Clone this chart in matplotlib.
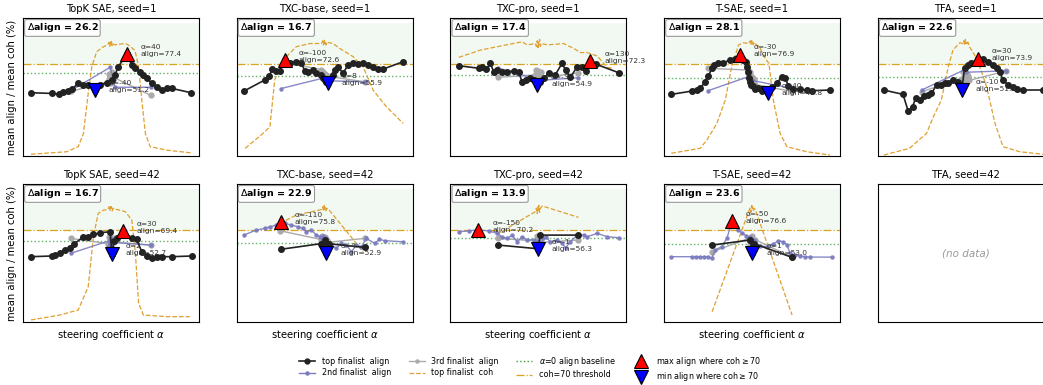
import matplotlib
matplotlib.use("Agg")
import matplotlib.pyplot as plt
from matplotlib.lines import Line2D

# ---- data (alpha, value in %) ----
# TopK SAE, seed=1
topk1_top_a = [-200, -148, -129, -119, -107, -98, -82, -69, -57, -40, -27, -11, 2, 10, 18, 40, 52, 60, 72, 81, 89, 102, 114, 127, 139, 152, 200]
topk1_top_y = [49, 48.5, 47.8, 49.7, 50.5, 51.5, 55.9, 54.6, 54.6, 51.2, 54.6, 56.3, 58.3, 62, 68, 77.4, 69.3, 66.9, 64.4, 62, 59.5, 56.3, 53, 51, 52.2, 52.2, 49]
topk1_coh_a = [-200, -111, -82, -69, -57, -48, -36, -19, -8, -5, -3, -1, 0, 1, 3, 5, 8, 20, 36, 43, 60, 69, 77, 86, 98, 139, 200]
topk1_coh_y = [4, 5.8, 9.5, 19, 48.6, 68, 79, 82.7, 84, 86, 83, 87, 84, 86.5, 83.5, 85, 84, 84.5, 85, 84, 80, 68, 43.7, 19, 9.5, 7, 5]
topk1_sec_a = [-100, -2, 10, 100]
topk1_sec_y = [50.7, 67.6, 53, 53]
topk1_thr_a = [-100, -8, -6, -4, -2, 0, 2, 4, 6, 8, 100]
topk1_thr_y = [50, 57, 63, 59, 61, 56, 64, 58, 62, 60, 47]

# TXC-base, seed=1
txcb1_top_a = [-202, -150, -139, -131, -121, -112, -100, -87, -71, -58, -50, -42, -29, -21, -10, -5, 0, 4, 8, 12, 20, 25, 33, 46, 58, 71, 83, 96, 108, 121, 133, 146, 196]
txcb1_top_y = [50.2, 58.3, 61.2, 66.1, 65.1, 65.1, 72.6, 71, 71.5, 70.5, 65.1, 64.4, 65.6, 63.2, 62, 60, 58, 57, 55.9, 58, 62, 65.6, 68, 63.2, 69.3, 70.5, 70, 70.5, 69.3, 68, 66.7, 66.3, 71.7]
txcb1_coh_a = [-199, -154, -137, -125, -104, -71, -37, -8, -5, -3, -1, 0, 1, 3, 5, 21, 37, 71, 96, 121, 154, 196]
txcb1_coh_y = [8.3, 19.3, 24, 58.3, 73, 82.7, 85, 85, 87, 84, 88, 85, 86.5, 84, 86, 85, 81.5, 75.4, 68, 51, 38.8, 26.6]
txcb1_sec_a = [-110, 0, 5, 100]
txcb1_sec_y = [52, 60, 57.8, 57]
txcb1_thr_a = [-100, -8, -6, -4, -2, 0, 2, 4, 6, 8, 100]
txcb1_thr_y = [71, 66, 62, 64, 60, 63, 59, 62, 58, 61, 57]

# TXC-pro, seed=1
txcp1_top_a = [-199, -149, -141, -130, -120, -112, -103, -91, -78, -62, -49, -41, -32, -20, -10, -3, 5, 13, 26, 42, 59, 68, 80, 97, 109, 118, 130, 143, 201]
txcp1_top_y = [68.8, 66.9, 68, 66.3, 70.5, 64.4, 65.6, 64.4, 64.4, 64.9, 63.9, 57.1, 58.3, 60, 58, 54.9, 57, 59.5, 63.2, 62, 70.5, 65.6, 60.3, 68, 68, 64.9, 72.3, 70, 63.6]
txcp1_coh_a = [-199, -145, -103, -70, -41, -28, -8, -5, -3, -1, 0, 1, 3, 5, 8, 22, 63, 88, 105, 122, 147, 172, 188]
txcp1_coh_y = [74.9, 80.2, 82.7, 84.6, 86.3, 84, 85, 83, 87, 82, 86, 84, 88, 83, 85, 84, 85, 81.5, 78.4, 78.4, 75.9, 67.5, 66.9]
txcp1_sec_a = [-100, -50, 0, 100]
txcp1_sec_y = [67, 63, 58, 60]
txcp1_thr_a = [-100, -8, -6, -4, -2, 0, 2, 4, 6, 8, 100]
txcp1_thr_y = [60.3, 62, 66, 60, 65, 59, 63, 61, 64, 60, 63.5]

# T-SAE, seed=1
tsae1_top_a = [-202, -151, -138, -130, -117, -109, -101, -95, -84, -72, -55, -42, -30, -22, -15, -12, -10, -8, -5, -2, 3, 8, 16, 26, 40, 49, 62, 74, 83, 91, 103, 120, 137, 149, 195]
tsae1_top_y = [47.8, 50.2, 51, 52.2, 57.1, 61.2, 66.9, 69.3, 70.5, 71, 72.9, 73.4, 76.9, 72.9, 71.7, 68, 64, 60, 57, 55, 53.9, 51.5, 52.2, 50.5, 48.8, 53, 55.9, 60.7, 59.5, 53.9, 51.5, 51.5, 51, 50.5, 51]
tsae1_coh_a = [-202, -130, -113, -88, -67, -51, -34, -22, -8, -5, -3, -1, 0, 1, 3, 5, 8, 20, 33, 42, 53, 70, 87, 137, 195]
tsae1_coh_y = [4.7, 8.3, 14.4, 26.6, 43.7, 68, 83.9, 85.6, 85, 87, 84, 88, 85, 86.5, 84, 86, 85, 81.5, 74, 70.5, 43.7, 19.3, 9.5, 5.8, 3.4]
tsae1_sec_a = [-110, -10, 0, 100]
tsae1_sec_y = [50.5, 60.7, 58, 52.2]
tsae1_thr_a = [-110, -10, -8, -6, -4, -2, 0, 2, 4, 6, 8, 100]
tsae1_thr_y = [66.9, 65.6, 62, 64, 59, 61, 57, 60, 56, 58, 55, 50]

# TFA, seed=1
tfa1_top_a = [-205, -157, -144, -133, -125, -115, -105, -94, -86, -73, -61, -52, -44, -32, -20, -10, -3, 6, 14, 30, 43, 56, 68, 77, 85, 93, 106, 118, 127, 143, 193]
tfa1_top_y = [51, 47.8, 35.6, 38.8, 45.4, 43.7, 46.6, 47.3, 48.6, 54.6, 54.6, 55.9, 56.3, 58.3, 57, 51.3, 66.9, 69.3, 70.5, 73.9, 73.4, 71.7, 69.3, 66.9, 64.4, 58.3, 54.6, 53, 51.5, 51, 51]
tfa1_coh_a = [-205, -141, -98, -81, -61, -44, -32, -15, -8, -5, -3, -1, 0, 1, 3, 5, 9, 22, 35, 52, 73, 93, 135, 193]
tfa1_coh_y = [3.4, 8.3, 19.3, 31.5, 43.7, 68, 80.2, 85.6, 85, 87, 84, 88, 85, 86, 84, 86, 82.7, 76.6, 68, 53.4, 26.6, 9.5, 5.8, 4]
tfa1_sec_a = [-110, -5, 0, 100]
tfa1_sec_y = [51, 65.6, 64, 65]
tfa1_thr_a = [-110, -8, -6, -4, -2, 0, 2, 4, 6, 8, 100]
tfa1_thr_y = [49.7, 60, 64, 58, 62, 57, 63, 59, 61, 58, 64.9]

# TopK SAE, seed=42
topk42_top_a = [-200, -148, -140, -128, -115, -103, -92, -69, -57, -44, -27, -2, 2, 8, 15, 30, 52, 64, 77, 89, 102, 114, 127, 152, 202]
topk42_top_y = [50.5, 51, 51.7, 53.4, 55.4, 56.6, 59.8, 65.1, 65.1, 66.8, 68, 68.8, 52.7, 62, 64, 69.4, 63.9, 63.2, 54.1, 51, 49.7, 50.2, 50.5, 50.5, 51]
topk42_coh_a = [-200, -128, -82, -57, -44, -32, -19, -8, -5, -3, -1, 0, 1, 3, 5, 8, 15, 36, 52, 61, 69, 81, 139, 197]
topk42_coh_y = [4.2, 7.8, 11.5, 28.5, 65.1, 82.2, 84.6, 85, 87, 84, 88, 86, 87, 84, 86, 85, 85.1, 83.4, 77.3, 53, 16.4, 7.8, 6.6, 6.6]
topk42_sec_a = [-100, -6, -4, -2, 0, 2, 4, 6, 100]
topk42_sec_y = [53, 62, 58, 64, 60, 63, 57, 61, 59]
topk42_thr_a = [-100, -8, -4, 0, 4, 8, 100]
topk42_thr_y = [63.9, 60, 65, 59, 64, 61, 59]

# TXC-base, seed=42
txcb42_top_a = [-110, -10, 0, 4, 10, 100]
txcb42_top_y = [55.9, 60, 62.7, 52.9, 60, 57.3]
txcb42_coh_a = [-112, -71, -8, -5, -3, -1, 0, 1, 3, 5, 8, 10, 96]
txcb42_coh_y = [74.9, 81, 85, 87, 84, 88, 85, 86.5, 84, 86, 85, 85.1, 54.1]
txcb42_sec_a = [-202, -171, -150, -137, -121, -110, -100, -83, -67, -54, -46, -33, -21, -12, -6, -3, 0, 3, 6, 17, 29, 42, 54, 67, 79, 92, 104, 125, 137, 150, 196]
txcb42_sec_y = [66.3, 70, 71.2, 72.4, 73.6, 75.8, 74.9, 73.6, 72.4, 71.2, 68.8, 70, 66.3, 65.1, 62, 66, 60, 64, 61, 59, 56.6, 60.3, 59, 54.1, 59, 57.8, 63.9, 60.3, 63.2, 62.2, 61.4]
txcb42_thr_a = [-112, -8, -6, -4, -2, 0, 2, 4, 6, 8, 100]
txcb42_thr_y = [69.5, 63, 66, 61, 64, 60, 65, 62, 63, 61, 63.9]

# TXC-pro, seed=42
txcp42_top_a = [-100, -1, 5, 100]
txcp42_top_y = [59, 56.3, 66.3, 66.3]
txcp42_coh_a = [-103, -8, -5, -3, -1, 0, 1, 3, 5, 10, 100]
txcp42_coh_y = [67, 83.4, 86, 82, 87, 84, 88, 83, 86, 87.6, 79.3]
txcp42_sec_a = [-199, -174, -150, -124, -103, -91, -78, -66, -53, -41, -28, -12, -6, 0, 6, 12, 18, 30, 47, 59, 68, 80, 97, 113, 122, 147, 172, 201]
txcp42_sec_y = [68.8, 69.3, 70.2, 69.3, 67.6, 65.1, 63.9, 66.3, 61.4, 65.1, 62.7, 63, 60, 62, 59, 64, 65.1, 61.4, 62.7, 60.3, 57, 61.4, 66.3, 66.3, 65.1, 67.6, 65.1, 64.4]
txcp42_thr_a = [-100, -6, -3, 0, 3, 6, 100]
txcp42_thr_y = [63.9, 62, 66, 60, 64, 61, 62.7]

# T-SAE, seed=42
tsae42_top_a = [-100, -5, 1, 5, 100]
tsae42_top_y = [59, 62.7, 53, 60, 50]
tsae42_coh_a = [-100, -8, -5, -3, -1, 0, 1, 3, 5, 8, 100]
tsae42_coh_y = [10.2, 84, 86, 83, 88, 85, 87, 84, 86, 85, 7.8]
tsae42_sec_a = [-202, -151, -141, -131, -121, -111, -101, -92, -76, -63, -50, -42, -34, -26, -15, -8, -4, 0, 4, 8, 20, 37, 53, 66, 78, 87, 95, 108, 120, 133, 145, 199]
tsae42_sec_y = [50.5, 50.5, 50.5, 50.5, 50.5, 50.5, 49.3, 55.4, 57.8, 63.9, 76.6, 72.9, 70, 68, 66, 62, 65, 60, 63, 61.4, 58.3, 57.8, 59.8, 62.2, 61.4, 59, 53, 51.7, 51, 50.5, 50.2, 50.2]
tsae42_thr_a = [-100, -8, -4, 0, 4, 8, 100]
tsae42_thr_y = [54, 64, 60, 66, 61, 63, 50]

titles = ["TopK SAE, seed=1", "TXC-base, seed=1", "TXC-pro, seed=1", "T-SAE, seed=1", "TFA, seed=1",
          "TopK SAE, seed=42", "TXC-base, seed=42", "TXC-pro, seed=42", "T-SAE, seed=42", "TFA, seed=42"]
baselines = [63.6, 61.2, 61.7, 60.0, 60.3, 62.2, 60.7, 64.4, 59.8]
max_alpha = [40, -100, 130, -30, 30, 30, -110, -150, -50]
max_align = [77.4, 72.6, 72.3, 76.9, 73.9, 69.4, 75.8, 70.2, 76.6]
min_alpha = [-40, 8, -3, 40, -10, 2, 4, -1, 1]
min_align = [51.2, 55.9, 54.9, 48.8, 51.3, 52.7, 52.9, 56.3, 53.0]

panels = [
    (topk1_top_a, topk1_top_y, topk1_coh_a, topk1_coh_y, topk1_sec_a, topk1_sec_y, topk1_thr_a, topk1_thr_y),
    (txcb1_top_a, txcb1_top_y, txcb1_coh_a, txcb1_coh_y, txcb1_sec_a, txcb1_sec_y, txcb1_thr_a, txcb1_thr_y),
    (txcp1_top_a, txcp1_top_y, txcp1_coh_a, txcp1_coh_y, txcp1_sec_a, txcp1_sec_y, txcp1_thr_a, txcp1_thr_y),
    (tsae1_top_a, tsae1_top_y, tsae1_coh_a, tsae1_coh_y, tsae1_sec_a, tsae1_sec_y, tsae1_thr_a, tsae1_thr_y),
    (tfa1_top_a, tfa1_top_y, tfa1_coh_a, tfa1_coh_y, tfa1_sec_a, tfa1_sec_y, tfa1_thr_a, tfa1_thr_y),
    (topk42_top_a, topk42_top_y, topk42_coh_a, topk42_coh_y, topk42_sec_a, topk42_sec_y, topk42_thr_a, topk42_thr_y),
    (txcb42_top_a, txcb42_top_y, txcb42_coh_a, txcb42_coh_y, txcb42_sec_a, txcb42_sec_y, txcb42_thr_a, txcb42_thr_y),
    (txcp42_top_a, txcp42_top_y, txcp42_coh_a, txcp42_coh_y, txcp42_sec_a, txcp42_sec_y, txcp42_thr_a, txcp42_thr_y),
    (tsae42_top_a, tsae42_top_y, tsae42_coh_a, tsae42_coh_y, tsae42_sec_a, tsae42_sec_y, tsae42_thr_a, tsae42_thr_y),
]

C_TOP = "#222222"
C_SEC = "#7b7bc0"
C_THR = "#aaaaaa"
C_COH = "#e0a030"
C_BASE = "#3aa03a"
C_THRESH = "#d9a520"

W, H = 1043, 385
fig = plt.figure(figsize=(W / 100, H / 100), dpi=100)

axes = []
for r in range(2):
    for c in range(5):
        left = 23 + c * 213.7
        top = 18 + r * 166
        ax = fig.add_axes([left / W, 1 - (top + 138) / H, 176 / W, 138 / H])
        axes.append(ax)

for i, ax in enumerate(axes):
    ax.set_xlim(-220, 220)
    ax.set_ylim(2.7, 103.7)
    ax.set_xticks([])
    ax.set_yticks([])
    ax.set_title(titles[i], fontsize=7.2, pad=4)
    if i % 5 == 0:
        ax.set_ylabel("mean align / mean coh (%)", fontsize=7.2)
    if i == 9:
        ax.text(0.5, 0.5, "(no data)", transform=ax.transAxes, ha="center", va="center",
                fontsize=7.5, style="italic", color="#999999")
        continue
    if i >= 5:
        ax.set_xlabel(r"steering coefficient $\alpha$", fontsize=7.2, labelpad=4)

    top_a, top_y, coh_a, coh_y, sec_a, sec_y, thr_a, thr_y = panels[i]
    ax.axhspan(70, 100, color="#2ca02c", alpha=0.06, lw=0, zorder=0)
    ax.axhline(70, color=C_THRESH, ls="-.", lw=0.9, zorder=1)
    ax.axhline(baselines[i], color=C_BASE, ls=":", lw=1.0, alpha=0.8, zorder=1)
    ax.plot(coh_a, coh_y, color=C_COH, ls="--", lw=0.9, zorder=2)
    ax.plot(thr_a, thr_y, color=C_THR, lw=1.0, marker="o", ms=3.5, zorder=3)
    ax.plot(sec_a, sec_y, color=C_SEC, lw=1.0, marker="o", ms=2.2, alpha=0.9, zorder=3)
    ax.plot(top_a, top_y, color=C_TOP, lw=1.2, marker="o", ms=4, zorder=4)

    ax.plot([max_alpha[i]], [max_align[i]], marker="^", ms=9.5, color="red", mec="black", mew=0.8, ls="none", zorder=6)
    ax.plot([min_alpha[i]], [min_align[i]], marker="v", ms=9.5, color="blue", mec="black", mew=0.8, ls="none", zorder=6)
    ax.annotate(f"α={max_alpha[i]}\nalign={max_align[i]:.1f}", (max_alpha[i], max_align[i]),
                xytext=(10, -2), textcoords="offset points", fontsize=5.4, ha="left", va="bottom",
                color="#333333", zorder=7)
    ax.annotate(f"α={min_alpha[i]}\nalign={min_align[i]:.1f}", (min_alpha[i], min_align[i]),
                xytext=(10, -2), textcoords="offset points", fontsize=5.4, ha="left", va="bottom",
                color="#333333", zorder=7)
    delta = max_align[i] - min_align[i]
    ax.text(0.02, 0.975, rf"$\Delta$align = {delta:.1f}", transform=ax.transAxes, ha="left", va="top",
            fontsize=6.8, fontweight="bold", zorder=8,
            bbox=dict(boxstyle="round,pad=0.2", fc="white", ec="#999999", lw=0.8))

handles = [
    Line2D([], [], color=C_TOP, lw=1.2, marker="o", ms=3.5),
    Line2D([], [], color=C_SEC, lw=1.0, marker="o", ms=2.2),
    Line2D([], [], color=C_THR, lw=1.0, marker="o", ms=2.2),
    Line2D([], [], color=C_COH, lw=0.9, ls="--"),
    Line2D([], [], color=C_BASE, lw=1.0, ls=":"),
    Line2D([], [], color=C_THRESH, lw=0.9, ls="-."),
    Line2D([], [], color="red", marker="^", ms=10, mec="black", mew=0.8, ls="none"),
    Line2D([], [], color="blue", marker="v", ms=10, mec="black", mew=0.8, ls="none"),
]
labels = ["top finalist  align", "2nd finalist  align", "3rd finalist  align", "top finalist  coh",
          r"$\alpha$=0 align baseline", "coh=70 threshold",
          "max align where coh$\\geq$70", "min align where coh$\\geq$70"]
fig.legend(handles, labels, loc="center", bbox_to_anchor=(530 / W, 1 - 369 / H), ncol=4,
           frameon=False, fontsize=5.8, columnspacing=2.2, handlelength=2.0, labelspacing=0.35)

fig.savefig("out.png", dpi=100)
